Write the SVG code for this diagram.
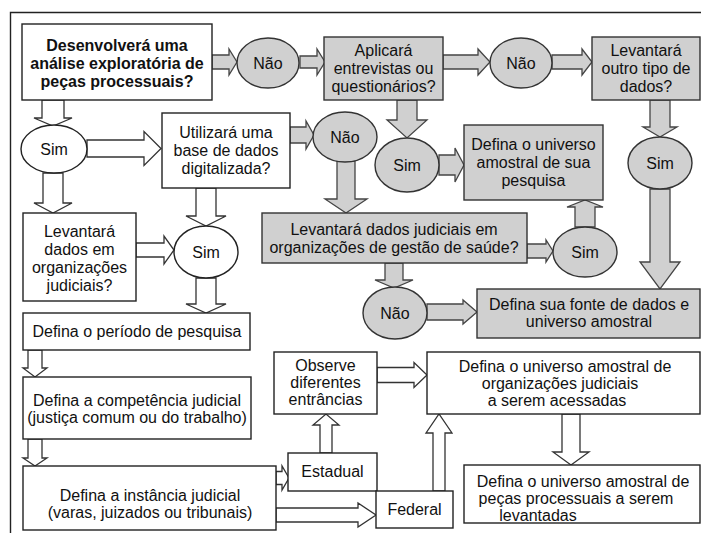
<svg xmlns="http://www.w3.org/2000/svg" width="702" height="533" viewBox="0 0 702 533">
<style>
text{font-family:"Liberation Sans",Arial,sans-serif;font-size:16px;fill:#111;text-anchor:middle}
.b{font-weight:bold}
.w{fill:#fff;stroke:#222;stroke-width:1.4}
.g{fill:#d0d0d0;stroke:#333;stroke-width:1.4}
.aw{fill:#fff;stroke:#333;stroke-width:1.3;stroke-linejoin:miter}
.ag{fill:#d0d0d0;stroke:#444;stroke-width:1.3;stroke-linejoin:miter}
</style>
<rect width="702" height="533" fill="#fff"/>
<path d="M10.5,533 V12.5 H701" fill="none" stroke="#222" stroke-width="1.4"/>
<g id="connectors">
<polygon class="ag" points="212,55 229,55 229,49 237,62 229,75 229,69 212,69"/>
<polygon class="ag" points="300,56 317,56 317,49 325,62 317,75 317,68 300,68"/>
<polygon class="ag" points="443,55 478,55 478,49 490,62 478,75 478,69 443,69"/>
<polygon class="ag" points="552,55 582,55 582,49 592,62 582,75 582,69 552,69"/>
<polygon class="ag" points="650,100 670,100 670,127 677,127 660,137 643,127 650,127"/>
<polygon class="ag" points="650,189 670,189 670,262 680,262 660,289 640,262 650,262"/>
<polygon class="ag" points="397,100 417,100 417,120 427,120 407,138 387,120 397,120"/>
<polygon class="ag" points="439,155 455,155 455,148 464,165 455,182 455,175 439,175"/>
<polygon class="ag" points="290,127 306,127 306,121 314,135 306,149 306,143 290,143"/>
<polygon class="ag" points="337,161 355,161 355,199 367,199 346,213 325,199 337,199"/>
<polygon class="ag" points="527,244 546,244 546,240 553,251 546,262 546,258 527,258"/>
<polygon class="ag" points="575,227 595,227 595,207 603,207 585,200 567,207 575,207"/>
<polygon class="ag" points="385,263 403,263 403,280 413,280 394,288 375,280 385,280"/>
<polygon class="ag" points="427,304 463,304 463,300 477,312 463,324 463,320 427,320"/>
<polygon class="aw" points="42,100 64,100 64,118 72,118 53,126 34,118 42,118"/>
<polygon class="aw" points="87,140 144,140 144,131.5 161,148.5 144,165.5 144,157 87,157"/>
<polygon class="aw" points="43,173 63,173 63,203 72,203 53,213 34,203 43,203"/>
<polygon class="aw" points="136,243 164,243 164,236 174,250 164,264 164,257 136,257"/>
<polygon class="aw" points="196,188 216,188 216,216 226,216 206,226 186,216 196,216"/>
<polygon class="aw" points="196,278 216,278 216,304 226,304 206,313 186,304 196,304"/>
<polygon class="aw" points="28,350 42,350 42,368 47,368 35,377 23,368 28,368"/>
<polygon class="aw" points="28,439 42,439 42,458 47,458 35,466 23,458 28,458"/>
<polygon class="aw" points="276,471.5 282,471.5 282,466 289,478 282,490 282,484.5 276,484.5"/>
<polygon class="aw" points="276,508 358,508 358,503 376,515 358,527 358,522 276,522"/>
<polygon class="aw" points="320,453 332,453 332,425 339,425 326,414 313,425 320,425"/>
<polygon class="aw" points="377,367.5 414,367.5 414,362.5 427,375 414,387.5 414,382.5 377,382.5"/>
<polygon class="aw" points="433,491 445,491 445,433 452,433 439,414 426,433 433,433"/>
<polygon class="aw" points="562,414 580,414 580,452 589,452 571,465 553,452 562,452"/>
</g>
<g id="n-desenvolvera"><rect class="w" x="22" y="24" width="190" height="76"/>
<text class="b" x="117" y="51">Desenvolverá uma</text><text class="b" x="117" y="69">análise exploratória de</text><text class="b" x="117" y="87">peças processuais?</text></g>
<g id="n-nao1"><ellipse class="g" cx="268" cy="63" rx="31" ry="25"/><text x="268" y="69">Não</text></g>
<g id="n-aplicara"><rect class="g" x="324" y="37" width="119" height="63"/>
<text x="383.5" y="56">Aplicará</text><text x="383.5" y="74">entrevistas ou</text><text x="383.5" y="92">questionários?</text></g>
<g id="n-nao2"><ellipse class="g" cx="521" cy="63" rx="31" ry="25"/><text x="521" y="69">Não</text></g>
<g id="n-outro"><rect class="g" x="592" y="37" width="108" height="63"/>
<text x="646" y="56">Levantará</text><text x="646" y="74">outro tipo de</text><text x="646" y="92">dados?</text></g>
<g id="n-sim1"><ellipse class="w" cx="54" cy="149" rx="33" ry="24"/><text x="54" y="155">Sim</text></g>
<g id="n-utilizara"><rect class="w" x="162" y="113" width="128" height="75"/>
<text x="226" y="138">Utilizará uma</text><text x="226" y="156">base de dados</text><text x="226" y="174">digitalizada?</text></g>
<g id="n-nao3"><ellipse class="g" cx="345" cy="137" rx="32" ry="25"/><text x="345" y="143">Não</text></g>
<g id="n-sim2"><ellipse class="g" cx="407" cy="165" rx="32" ry="27"/><text x="407" y="171">Sim</text></g>
<g id="n-sua"><rect class="g" x="464" y="125" width="139" height="75"/>
<text x="533.5" y="150">Defina o universo</text><text x="533.5" y="168">amostral de sua</text><text x="533.5" y="186">pesquisa</text></g>
<g id="n-sim3"><ellipse class="g" cx="660" cy="163" rx="32" ry="26"/><text x="660" y="169">Sim</text></g>
<g id="n-levdados"><rect class="w" x="23" y="213" width="113" height="88"/>
<text x="79.5" y="237">Levantará</text><text x="79.5" y="255">dados em</text><text x="79.5" y="273">organizações</text><text x="79.5" y="291">judiciais?</text></g>
<g id="n-sim4"><ellipse class="w" cx="206" cy="252" rx="32" ry="26"/><text x="206" y="258">Sim</text></g>
<g id="n-levjud"><rect class="g" x="262" y="213" width="265" height="50"/>
<text x="394" y="235">Levantará dados judiciais em</text><text x="394" y="253">organizações de gestão de saúde?</text></g>
<g id="n-sim5"><ellipse class="g" cx="585" cy="252" rx="32" ry="25"/><text x="585" y="258">Sim</text></g>
<g id="n-nao4"><ellipse class="g" cx="395" cy="313" rx="32" ry="26"/><text x="395" y="319">Não</text></g>
<g id="n-fonte"><rect class="g" x="477" y="289" width="223" height="49"/>
<text x="589" y="310">Defina sua fonte de dados e</text><text x="589" y="327">universo amostral</text></g>
<g id="n-periodo"><rect class="w" x="23" y="313" width="227" height="37"/>
<text x="137" y="337">Defina o período de pesquisa</text></g>
<g id="n-competencia"><rect class="w" x="23" y="377" width="228" height="62"/>
<text x="137" y="406">Defina a competência judicial</text><text x="137" y="423">(justiça comum ou do trabalho)</text></g>
<g id="n-instancia"><rect class="w" x="23" y="466" width="253" height="64"/>
<text x="150" y="501">Defina a instância judicial</text><text x="150" y="518">(varas, juizados ou tribunais)</text></g>
<g id="n-observe"><rect class="w" x="274" y="352" width="103" height="62"/>
<text x="325.5" y="371">Observe</text><text x="325.5" y="388">diferentes</text><text x="325.5" y="405">entrâncias</text></g>
<g id="n-estadual"><rect class="w" x="288" y="453" width="89" height="38"/><text x="332.5" y="477">Estadual</text></g>
<g id="n-federal"><rect class="w" x="376" y="491" width="77" height="37"/><text x="414.5" y="515">Federal</text></g>
<g id="n-org"><rect class="w" x="427" y="352" width="273" height="62"/>
<text x="565" y="372">Defina o universo amostral de</text><text x="560" y="389">organizações judiciais</text><text x="557" y="406">a serem acessadas</text></g>
<g id="n-pecas"><rect class="w" x="464" y="465" width="236" height="58"/>
<text x="583" y="487">Defina o universo amostral de</text><text x="576" y="504">peças processuais a serem</text><text x="538" y="521">levantadas</text></g>
</svg>
